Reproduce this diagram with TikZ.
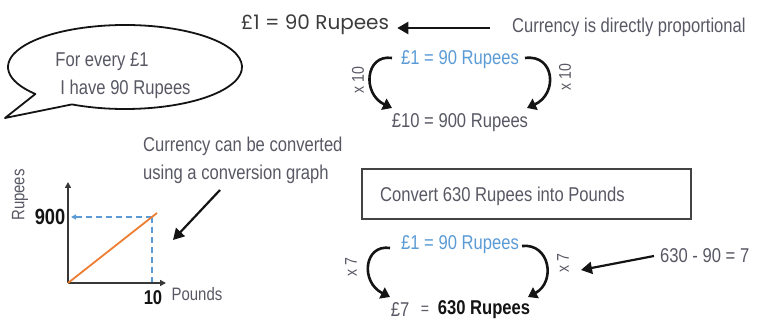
\documentclass[tikz,border=0pt]{standalone}
\usepackage{fontspec}
\setmainfont{Liberation Sans}
\newfontfamily\hand[FakeStretch=0.83]{Liberation Sans}
\newfontfamily\handbold[FakeStretch=0.83]{Liberation Sans Bold}
\newfontfamily\geo{Poppins}
\usetikzlibrary{arrows.meta}
\definecolor{txt}{RGB}{88,88,100}
\definecolor{geotxt}{RGB}{60,60,60}
\definecolor{blu}{RGB}{91,155,213}
\definecolor{orng}{RGB}{237,125,49}
\definecolor{ink}{RGB}{20,20,20}
\begin{document}
\begin{tikzpicture}[x=1pt,y=1pt,
  htext/.style={font=\hand\fontsize{20}{28}\selectfont, text=txt, inner sep=0pt},
  mdtext/.style={font=\hand\fontsize{20}{24}\selectfont, text=txt, inner sep=0pt},
  smtext/.style={font=\hand\fontsize{17}{20}\selectfont, text=txt, inner sep=0pt},
  geotext/.style={font=\geo\fontsize{20}{24}\selectfont, text=geotxt, inner sep=0pt},
  boldt/.style={font=\handbold\fontsize{20}{22}\selectfont, text=ink, inner sep=0pt},
  bigarrow/.style={draw=ink, line width=2.2pt, -{Triangle[length=11pt,width=12pt]}},
  curv/.style={draw=ink, line width=2.6pt, -{Triangle[length=9pt,width=12pt]}},
  axisline/.style={draw=ink!85, line width=1.8pt, -{Triangle[length=6pt,width=6pt]}},
  orline/.style={draw=orng, line width=1.8pt},
  dshline/.style={draw=blu, line width=1.5pt, dash pattern=on 6pt off 4pt},
  bubble/.style={draw=ink, line width=1.8pt, fill=white, line join=round},
  boxst/.style={draw=ink!80, line width=2pt},
  rotl/.style={rotate=90}
]
\useasboundingbox (0,0) rectangle (764,334);

% ---------- top section ----------
\node[geotext] (topeq) at (315,309) {£1 = 90 Rupees};
\node[htext, anchor=west] (prop) at (512,307) {Currency is directly proportional};
\draw[bigarrow] ([xshift=-22pt,yshift=-1pt]prop.west) -- ([xshift=8pt,yshift=-3pt]topeq.east);

% speech bubble
\draw[bubble] (125,267) ++(243:117 and 42) arc[start angle=243,end angle=580,x radius=117,y radius=42] -- (5,216) -- cycle;
\node[htext, align=left] (bt) at (123,258) {For every £1\\\hspace{5pt}I have 90 Rupees};

% proportional example
\node[mdtext, text=blu] (b1) at (460,274) {£1 = 90 Rupees};
\node[mdtext] (t10) at (460,211) {£10 = 900 Rupees};
\node[smtext, rotl] (x10l) at (358,254) {x 10};
\node[smtext, rotl] (x10r) at (565,257) {x 10};
\draw[curv] ([shift={(-68,2)}]b1.center) .. controls +(-27,4) and +(-30,14) .. ([shift={(-68,15)}]t10.center);
\draw[curv] ([shift={(65,2)}]b1.center) .. controls +(30,4) and +(31,14) .. ([shift={(67,15)}]t10.center);

% ---------- conversion graph ----------
\coordinate (O) at (68,51);
\coordinate (ytop) at (68,152);
\coordinate (xend) at (166,51);
\coordinate (lend) at (157,121);
\coordinate (dtop) at (152,117);
\coordinate (dbot) at (152,51);
\coordinate (dleft) at (71,117);
\draw[dshline] (dbot) -- (dtop);
\draw[dshline, -{Triangle[length=5pt,width=5pt]}] (dtop) -- (dleft);
\draw[axisline] (O) -- (ytop);
\draw[axisline] (O) -- (xend);
\draw[orline] (O) -- (lend);
\node[boldt, font=\handbold\fontsize{22}{24}\selectfont] (n900) at (50,117) {900};
\node[boldt] (n10) at (153,36) {10};
\node[smtext, font=\hand\fontsize{18}{20}\selectfont] (pounds) at (197,40) {Pounds};
\node[smtext, rotl, font=\hand\fontsize{18}{20}\selectfont] (rupees) at (20,139) {Rupees};

\node[htext, align=left, anchor=west] (conv) at (143,174) {Currency can be converted\\using a conversion graph};
\coordinate (gtip) at (173,94);
\draw[bigarrow] ([shift={(77,-30)}]conv.west) -- (gtip);

% ---------- convert 630 rupees ----------
\node[boxst, minimum width=329pt, minimum height=50pt, inner sep=0pt] (box) at (526.5,140) {};
\node[htext, anchor=west] (boxt) at (380,138) {Convert 630 Rupees into Pounds};

\node[mdtext, text=blu] (b2) at (460,89) {£1 = 90 Rupees};
\node[mdtext] (p7) at (400,24) {£7};
\node[smtext] (eqs) at (425,24) {=};
\node[boldt] (r630) at (484,24) {630 Rupees};
\node[smtext, rotl] (x7l) at (351,67) {x 7};
\node[smtext, rotl] (x7r) at (563,71) {x 7};
\draw[curv] ([shift={(-70,-3)}]b2.center) .. controls +(-26,4) and +(-30,15) .. ([shift={(-10,13)}]p7.center);
\draw[curv] ([shift={(62,-1)}]b2.center) .. controls +(28,3) and +(28,15) .. ([shift={(44,13)}]r630.center);

\node[mdtext, anchor=west] (div) at (660,78) {630 - 90 = 7};
\draw[bigarrow] ([xshift=-6pt]div.west) -- ([shift={(18,-7)}]x7r.center);
\end{tikzpicture}
\end{document}
